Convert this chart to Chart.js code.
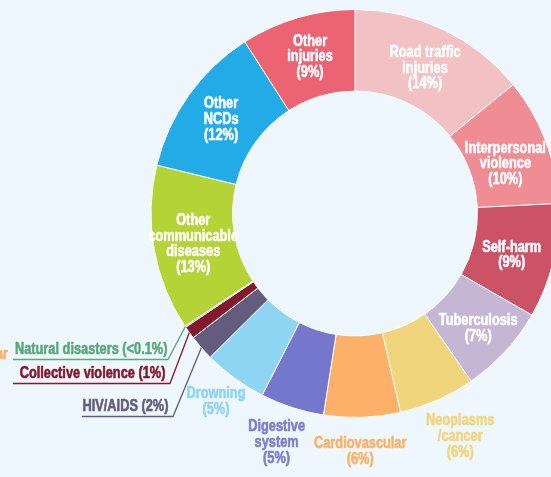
<!DOCTYPE html>
<html>
<head>
<meta charset="utf-8">
<script src="https://cdn.jsdelivr.net/npm/chart.js@4/dist/chart.umd.min.js"></script>
<style>
  html, body { margin: 0; padding: 0; background: #eef7fd; overflow: hidden; }
  #wrap { width: 551px; height: 477px; overflow: hidden; position: relative; }
  canvas { display: block; }
</style>
</head>
<body>
<div id="wrap"><canvas id="c" width="600" height="477"></canvas></div>
<script>
// Causes of death, share of total (%), clockwise from 12 o'clock
const categories = [
  'Road traffic injuries', 'Interpersonal violence', 'Self-harm', 'Tuberculosis',
  'Neoplasms /cancer', 'Cardiovascular', 'Digestive system', 'Drowning',
  'HIV/AIDS', 'Collective violence', 'Natural disasters',
  'Other communicable diseases', 'Other NCDs', 'Other injuries'
];
const shares = [14, 10, 9, 7, 6, 6, 5, 5, 2, 1, 0.1, 13, 12, 9];
const shareText = ['14%', '10%', '9%', '7%', '6%', '6%', '5%', '5%', '2%', '1%', '<0.1%', '13%', '12%', '9%'];
// how each category name is broken over lines in its label
const nameLines = [
  ['Road traffic', 'injuries'], ['Interpersonal', 'violence'], ['Self-harm'], ['Tuberculosis'],
  ['Neoplasms', '/cancer'], ['Cardiovascular'], ['Digestive', 'system'], ['Drowning'],
  ['HIV/AIDS'], ['Collective violence'], ['Natural disasters'],
  ['Other', 'communicable', 'diseases'], ['Other', 'NCDs'], ['Other', 'injuries']
];

const sliceColors = [
  '#f2c1c4', '#ef8c94', '#cc5367', '#c5b6d3', '#f1d57d', '#fdb068', '#7577cc',
  '#8ed4f3', '#635c7c', '#84182d', '#5ba77b', '#b4d337', '#23abe8', '#ec6474'
];

const FONT = "'Liberation Sans', Arial, sans-serif";
const NARROW = 0.8; // horizontal squeeze giving a condensed face

// label placement: inside the ring, just outside it, or with a leader line to the left
const labelStyle = [
  { mode: 'in', dx: 0, dy: 2 },
  { mode: 'in', dx: -2, dy: 9 },
  { mode: 'in', dx: -2, dy: 3.5 },
  { mode: 'in', dx: 3, dy: 5 },
  { mode: 'out', gap: 42, dx: 6, dy: -2, color: '#f1d57d' },
  { mode: 'out', gap: 32, dx: -3, dy: 2, color: '#fdb068' },
  { mode: 'out', gap: 37, dx: -4, dy: 0, color: '#7b7dcd' },
  { mode: 'out', gap: 30, dx: -1, dy: -1, color: '#8ed4f3' },
  { mode: 'lead', elbowX: 173, lineY: 416.5, lineLeft: 82, textRight: 168.5, color: '#635c7c' },
  { mode: 'lead', elbowX: 170, lineY: 383.5, lineLeft: 13, textRight: 165.5, color: '#84182d' },
  { mode: 'lead', elbowX: 168, lineY: 359.5, lineLeft: 13, textRight: 167.5, color: '#5ba77b' },
  { mode: 'in', dx: -1, dy: 2.5 },
  { mode: 'in', dx: -1, dy: 1 },
  { mode: 'in', dx: 1, dy: 0 }
];

// condensed, slightly heavier text: squeezed horizontally and traced with a hairline
function narrowText(ctx, t, x, y) {
  ctx.save();
  ctx.translate(x, y);
  ctx.scale(NARROW, 1);
  ctx.strokeStyle = ctx.fillStyle;
  ctx.lineWidth = 0.6;
  ctx.lineJoin = 'round';
  ctx.fillText(t, 0, 0);
  ctx.strokeText(t, 0, 0);
  ctx.restore();
}

function drawBlock(ctx, lines, x, yc, lh, color) {
  ctx.fillStyle = color;
  const top = yc - (lines.length - 1) * lh / 2;
  lines.forEach((t, i) => narrowText(ctx, t, x, top + i * lh));
}

const labelPlugin = {
  id: 'sliceLabels',
  afterDatasetsDraw(chart) {
    const ctx = chart.ctx;
    const arcs = chart.getDatasetMeta(0).data;
    ctx.save();
    ctx.textBaseline = 'middle';
    arcs.forEach((arc, i) => {
      const st = labelStyle[i];
      const lines = nameLines[i].concat(['(' + shareText[i] + ')']);
      const p = arc.getProps(['x', 'y', 'startAngle', 'endAngle', 'outerRadius', 'innerRadius'], true);
      const mid = (p.startAngle + p.endAngle) / 2;
      if (st.mode === 'in') {
        ctx.font = 'bold 16px ' + FONT;
        ctx.textAlign = 'center';
        const c = arc.getCenterPoint(true);
        drawBlock(ctx, lines, c.x + st.dx, c.y + st.dy, 15.8, '#ffffff');
      } else if (st.mode === 'out') {
        ctx.font = 'bold 16px ' + FONT;
        ctx.textAlign = 'center';
        const r = p.outerRadius + st.gap;
        drawBlock(ctx, lines, p.x + Math.cos(mid) * r + st.dx, p.y + Math.sin(mid) * r + st.dy, 15.8, st.color);
      } else {
        const sx = p.x + Math.cos(mid) * p.outerRadius;
        const sy = p.y + Math.sin(mid) * p.outerRadius;
        ctx.strokeStyle = st.color;
        ctx.lineWidth = 1.3;
        ctx.beginPath();
        ctx.moveTo(sx, sy);
        ctx.lineTo(st.elbowX, st.lineY);
        ctx.lineTo(st.lineLeft, st.lineY);
        ctx.stroke();
        ctx.font = 'bold 16px ' + FONT;
        ctx.textAlign = 'right';
        ctx.fillStyle = st.color;
        narrowText(ctx, nameLines[i].join(' ') + ' (' + shareText[i] + ')', st.textRight, st.lineY - 10);
      }
    });
    // tail of a neighbouring label running in from the left edge
    ctx.font = 'bold 16px ' + FONT;
    ctx.textAlign = 'right';
    ctx.fillStyle = '#fdb068';
    narrowText(ctx, 'Cardiovascular', 8, 355);
    ctx.restore();
  }
};

new Chart(document.getElementById('c'), {
  type: 'doughnut',
  data: {
    labels: categories,
    datasets: [{
      data: shares,
      backgroundColor: sliceColors,
      borderColor: '#ffffff',
      borderWidth: 1,
      hoverOffset: 0
    }]
  },
  options: {
    responsive: false,
    animation: false,
    cutout: '60%',
    layout: { padding: { left: 150.5, right: 40.5, top: 9, bottom: 59 } },
    plugins: {
      legend: { display: false },
      tooltip: { enabled: false }
    }
  },
  plugins: [labelPlugin]
});
</script>
</body>
</html>
